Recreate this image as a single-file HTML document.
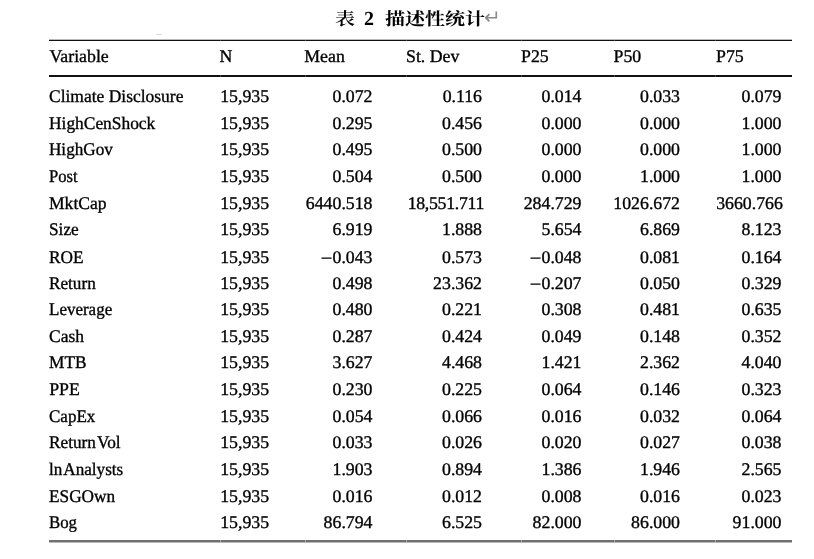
<!DOCTYPE html>
<html><head><meta charset="utf-8"><style>
html,body{margin:0;padding:0;background:#fff;}
body{width:814px;height:559px;position:relative;overflow:hidden;text-rendering:geometricPrecision;font-family:"Liberation Serif","Noto Serif CJK SC",serif;color:#000;}
.t{position:absolute;white-space:nowrap;font-size:17.8px;line-height:17.8px;height:17.8px;-webkit-text-stroke:0.35px #000;}
.n{position:absolute;white-space:nowrap;font-size:17.8px;line-height:17.8px;height:17.8px;text-align:right;-webkit-text-stroke:0.35px #000;}
.rule{position:absolute;}
.m{display:inline-block;transform:translate(0.3px,1px) scaleX(1.15);transform-origin:100% 50%;}
.c{position:absolute;white-space:nowrap;font-family:"Noto Serif CJK SC",serif;font-size:20px;line-height:20px;}
</style></head><body>

<div class="c" style="left:335px;top:8.5px;font-weight:600;transform:scaleY(0.88);transform-origin:0 0;">表</div>
<div class="c" style="left:364px;top:8.5px;font-family:'Liberation Serif';font-weight:bold;">2</div>
<div class="c" style="left:385px;top:8.5px;font-weight:700;transform:scaleY(0.88);transform-origin:0 0;">描述性统计</div>
<div class="c" style="left:484px;top:8px;color:#8a8a8a;font-family:'Liberation Serif','DejaVu Sans';">↵</div>
<div class="rule" style="left:49px;top:40px;width:743px;height:1px;background:#111"></div>
<div class="rule" style="left:49px;top:39px;width:743px;height:1px;background:#bbb"></div>
<div class="rule" style="left:49px;top:75px;width:743px;height:2px;background:#111"></div>
<div class="rule" style="left:49px;top:540px;width:743px;height:2px;background:#707070"></div>
<div class="rule" style="left:49px;top:542px;width:743px;height:1px;background:#b8b8b8"></div>
<div class="rule" style="left:156px;top:34px;width:6px;height:1px;background:#dcdcdc"></div>
<div class="rule" style="left:220px;top:40px;width:1px;height:1px;background:#444"></div>
<div class="rule" style="left:220px;top:75px;width:1px;height:2px;background:#444"></div>
<div class="rule" style="left:220px;top:540px;width:1px;height:2px;background:#a8a8a8"></div>
<div class="rule" style="left:305px;top:40px;width:1px;height:1px;background:#444"></div>
<div class="rule" style="left:305px;top:75px;width:1px;height:2px;background:#444"></div>
<div class="rule" style="left:305px;top:540px;width:1px;height:2px;background:#a8a8a8"></div>
<div class="rule" style="left:406px;top:40px;width:1px;height:1px;background:#444"></div>
<div class="rule" style="left:406px;top:75px;width:1px;height:2px;background:#444"></div>
<div class="rule" style="left:406px;top:540px;width:1px;height:2px;background:#a8a8a8"></div>
<div class="rule" style="left:521px;top:40px;width:1px;height:1px;background:#444"></div>
<div class="rule" style="left:521px;top:75px;width:1px;height:2px;background:#444"></div>
<div class="rule" style="left:521px;top:540px;width:1px;height:2px;background:#a8a8a8"></div>
<div class="rule" style="left:614px;top:40px;width:1px;height:1px;background:#444"></div>
<div class="rule" style="left:614px;top:75px;width:1px;height:2px;background:#444"></div>
<div class="rule" style="left:614px;top:540px;width:1px;height:2px;background:#a8a8a8"></div>
<div class="rule" style="left:715px;top:40px;width:1px;height:1px;background:#444"></div>
<div class="rule" style="left:715px;top:75px;width:1px;height:2px;background:#444"></div>
<div class="rule" style="left:715px;top:540px;width:1px;height:2px;background:#a8a8a8"></div>
<div class="t" style="left:49.5px;top:47.64px">Variable</div>
<div class="t" style="left:219.5px;top:47.64px">N</div>
<div class="t" style="left:304.3px;top:47.64px">Mean</div>
<div class="t" style="left:406px;top:47.64px">St. Dev</div>
<div class="t" style="left:521px;top:47.64px">P25</div>
<div class="t" style="left:613.5px;top:47.64px">P50</div>
<div class="t" style="left:716px;top:47.64px">P75</div>
<div class="t" style="left:49.2px;top:88.34px;transform:scaleX(0.9824);transform-origin:0 0">Climate Disclosure</div>
<div class="n" style="left:220.2px;top:88.34px;text-align:left">15,935</div>
<div class="n" style="right:441.5px;top:88.34px;">0.072</div>
<div class="n" style="right:332px;top:88.34px;">0.116</div>
<div class="n" style="right:232.5px;top:88.34px;">0.014</div>
<div class="n" style="right:134px;top:88.34px;">0.033</div>
<div class="n" style="right:32.5px;top:88.34px;">0.079</div>
<div class="t" style="left:49.2px;top:115.36px;transform:scaleX(0.978);transform-origin:0 0">HighCenShock</div>
<div class="n" style="left:220.2px;top:115.36px;text-align:left">15,935</div>
<div class="n" style="right:441.5px;top:115.36px;">0.295</div>
<div class="n" style="right:332px;top:115.36px;">0.456</div>
<div class="n" style="right:232.5px;top:115.36px;">0.000</div>
<div class="n" style="right:134px;top:115.36px;">0.000</div>
<div class="n" style="right:32.5px;top:115.36px;">1.000</div>
<div class="t" style="left:49.2px;top:141.47px;transform:scaleX(0.9636);transform-origin:0 0">HighGov</div>
<div class="n" style="left:220.2px;top:141.47px;text-align:left">15,935</div>
<div class="n" style="right:441.5px;top:141.47px;">0.495</div>
<div class="n" style="right:332px;top:141.47px;">0.500</div>
<div class="n" style="right:232.5px;top:141.47px;">0.000</div>
<div class="n" style="right:134px;top:141.47px;">0.000</div>
<div class="n" style="right:32.5px;top:141.47px;">1.000</div>
<div class="t" style="left:49.2px;top:167.59px;transform:scaleX(0.9323);transform-origin:0 0">Post</div>
<div class="n" style="left:220.2px;top:167.59px;text-align:left">15,935</div>
<div class="n" style="right:441.5px;top:167.59px;">0.504</div>
<div class="n" style="right:332px;top:167.59px;">0.500</div>
<div class="n" style="right:232.5px;top:167.59px;">0.000</div>
<div class="n" style="right:134px;top:167.59px;">1.000</div>
<div class="n" style="right:32.5px;top:167.59px;">1.000</div>
<div class="t" style="left:49.2px;top:194.71px;transform:scaleX(0.9879);transform-origin:0 0">MktCap</div>
<div class="n" style="left:220.2px;top:194.71px;text-align:left">15,935</div>
<div class="n" style="right:441.5px;top:194.71px;">6440.518</div>
<div class="n" style="right:330.0px;top:194.71px;letter-spacing:-0.3px;">18,551.711</div>
<div class="n" style="right:232.5px;top:194.71px;">284.729</div>
<div class="n" style="right:134px;top:194.71px;">1026.672</div>
<div class="n" style="right:31.2px;top:194.71px;">3660.766</div>
<div class="t" style="left:49.2px;top:220.83px;transform:scaleX(0.97);transform-origin:0 0">Size</div>
<div class="n" style="left:220.2px;top:220.83px;text-align:left">15,935</div>
<div class="n" style="right:441.5px;top:220.83px;">6.919</div>
<div class="n" style="right:332px;top:220.83px;">1.888</div>
<div class="n" style="right:232.5px;top:220.83px;">5.654</div>
<div class="n" style="right:134px;top:220.83px;">6.869</div>
<div class="n" style="right:32.5px;top:220.83px;">8.123</div>
<div class="t" style="left:49.2px;top:249.14px;transform:scaleX(0.9714);transform-origin:0 0">ROE</div>
<div class="n" style="left:220.2px;top:249.14px;text-align:left">15,935</div>
<div class="n" style="right:441.5px;top:249.14px;"><span class="m">−</span>0.043</div>
<div class="n" style="right:332px;top:249.14px;">0.573</div>
<div class="n" style="right:232.5px;top:249.14px;"><span class="m">−</span>0.048</div>
<div class="n" style="right:134px;top:249.14px;">0.081</div>
<div class="n" style="right:32.5px;top:249.14px;">0.164</div>
<div class="t" style="left:49.2px;top:275.06px;transform:scaleX(0.9667);transform-origin:0 0">Return</div>
<div class="n" style="left:220.2px;top:275.06px;text-align:left">15,935</div>
<div class="n" style="right:441.5px;top:275.06px;">0.498</div>
<div class="n" style="right:332px;top:275.06px;">23.362</div>
<div class="n" style="right:232.5px;top:275.06px;"><span class="m">−</span>0.207</div>
<div class="n" style="right:134px;top:275.06px;">0.050</div>
<div class="n" style="right:32.5px;top:275.06px;">0.329</div>
<div class="t" style="left:49.2px;top:301.18px;transform:scaleX(0.9554);transform-origin:0 0">Leverage</div>
<div class="n" style="left:220.2px;top:301.18px;text-align:left">15,935</div>
<div class="n" style="right:441.5px;top:301.18px;">0.480</div>
<div class="n" style="right:332px;top:301.18px;">0.221</div>
<div class="n" style="right:232.5px;top:301.18px;">0.308</div>
<div class="n" style="right:134px;top:301.18px;">0.481</div>
<div class="n" style="right:32.5px;top:301.18px;">0.635</div>
<div class="t" style="left:49.2px;top:327.79px;transform:scaleX(0.9857);transform-origin:0 0">Cash</div>
<div class="n" style="left:220.2px;top:327.79px;text-align:left">15,935</div>
<div class="n" style="right:441.5px;top:327.79px;">0.287</div>
<div class="n" style="right:332px;top:327.79px;">0.424</div>
<div class="n" style="right:232.5px;top:327.79px;">0.049</div>
<div class="n" style="right:134px;top:327.79px;">0.148</div>
<div class="n" style="right:32.5px;top:327.79px;">0.352</div>
<div class="t" style="left:49.2px;top:353.91px;transform:scaleX(0.9737);transform-origin:0 0">MTB</div>
<div class="n" style="left:220.2px;top:353.91px;text-align:left">15,935</div>
<div class="n" style="right:441.5px;top:353.91px;">3.627</div>
<div class="n" style="right:332px;top:353.91px;">4.468</div>
<div class="n" style="right:232.5px;top:353.91px;">1.421</div>
<div class="n" style="right:134px;top:353.91px;">2.362</div>
<div class="n" style="right:32.5px;top:353.91px;">4.040</div>
<div class="t" style="left:49.2px;top:380.53px;transform:scaleX(1.0);transform-origin:0 0">PPE</div>
<div class="n" style="left:220.2px;top:380.53px;text-align:left">15,935</div>
<div class="n" style="right:441.5px;top:380.53px;">0.230</div>
<div class="n" style="right:332px;top:380.53px;">0.225</div>
<div class="n" style="right:232.5px;top:380.53px;">0.064</div>
<div class="n" style="right:134px;top:380.53px;">0.146</div>
<div class="n" style="right:32.5px;top:380.53px;">0.323</div>
<div class="t" style="left:49.2px;top:408.34px;transform:scaleX(0.9562);transform-origin:0 0">CapEx</div>
<div class="n" style="left:220.2px;top:408.34px;text-align:left">15,935</div>
<div class="n" style="right:441.5px;top:408.34px;">0.054</div>
<div class="n" style="right:332px;top:408.34px;">0.066</div>
<div class="n" style="right:232.5px;top:408.34px;">0.016</div>
<div class="n" style="right:134px;top:408.34px;">0.032</div>
<div class="n" style="right:32.5px;top:408.34px;">0.064</div>
<div class="t" style="left:49.2px;top:434.26px;transform:scaleX(0.9699);transform-origin:0 0">Return<span style="margin-left:1px">Vol</span></div>
<div class="n" style="left:220.2px;top:434.26px;text-align:left">15,935</div>
<div class="n" style="right:441.5px;top:434.26px;">0.033</div>
<div class="n" style="right:332px;top:434.26px;">0.026</div>
<div class="n" style="right:232.5px;top:434.26px;">0.020</div>
<div class="n" style="right:134px;top:434.26px;">0.027</div>
<div class="n" style="right:32.5px;top:434.26px;">0.038</div>
<div class="t" style="left:49.2px;top:460.68px;transform:scaleX(0.9632);transform-origin:0 0">ln<span style="margin-left:1px">Analysts</span></div>
<div class="n" style="left:220.2px;top:460.68px;text-align:left">15,935</div>
<div class="n" style="right:441.5px;top:460.68px;">1.903</div>
<div class="n" style="right:332px;top:460.68px;">0.894</div>
<div class="n" style="right:232.5px;top:460.68px;">1.386</div>
<div class="n" style="right:134px;top:460.68px;">1.946</div>
<div class="n" style="right:32.5px;top:460.68px;">2.565</div>
<div class="t" style="left:49.2px;top:487.70px;transform:scaleX(0.9706);transform-origin:0 0">ESGOwn</div>
<div class="n" style="left:220.2px;top:487.70px;text-align:left">15,935</div>
<div class="n" style="right:441.5px;top:487.70px;">0.016</div>
<div class="n" style="right:332px;top:487.70px;">0.012</div>
<div class="n" style="right:232.5px;top:487.70px;">0.008</div>
<div class="n" style="right:134px;top:487.70px;">0.016</div>
<div class="n" style="right:32.5px;top:487.70px;">0.023</div>
<div class="t" style="left:49.2px;top:513.61px;transform:scaleX(0.9448);transform-origin:0 0">Bog</div>
<div class="n" style="left:220.2px;top:513.61px;text-align:left">15,935</div>
<div class="n" style="right:441.5px;top:513.61px;">86.794</div>
<div class="n" style="right:332px;top:513.61px;">6.525</div>
<div class="n" style="right:232.5px;top:513.61px;">82.000</div>
<div class="n" style="right:134px;top:513.61px;">86.000</div>
<div class="n" style="right:32.5px;top:513.61px;">91.000</div>
</body></html>
